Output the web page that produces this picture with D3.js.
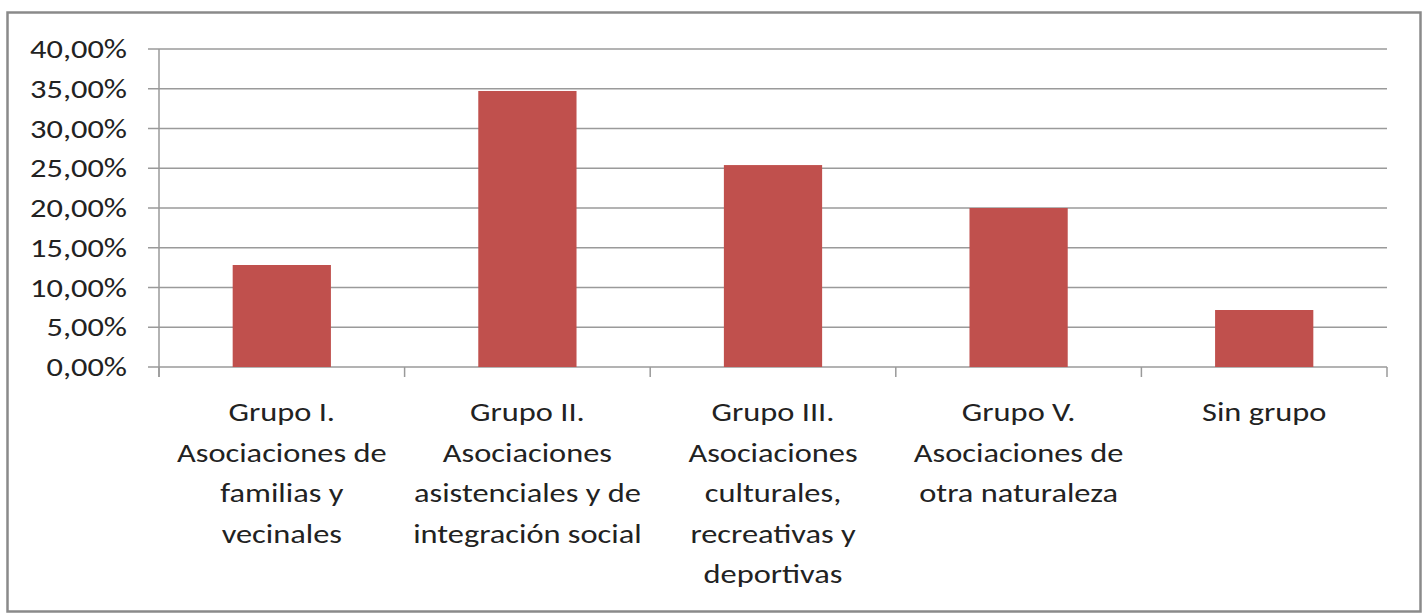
<!DOCTYPE html>
<html>
<head>
<meta charset="utf-8">
<script src="https://cdn.jsdelivr.net/npm/d3@7"></script>
<style>
	html, body { margin: 0; padding: 0; background: #fff; }
	svg { display: block; }
</style>
</head>
<body>
<div id="chart"></div>
<script>
// data
const categories = [
	["Grupo I.", "Asociaciones de", "familias y", "vecinales"],
	["Grupo II.", "Asociaciones", "asistenciales y de", "integración social"],
	["Grupo III.", "Asociaciones", "culturales,", "recreativas y", "deportivas"],
	["Grupo V.", "Asociaciones de", "otra naturaleza"],
	["Sin grupo"]
];
const values = [0.1283, 0.3472, 0.2540, 0.2000, 0.0717];
const yTicks = [0, 0.05, 0.10, 0.15, 0.20, 0.25, 0.30, 0.35, 0.40];

const width = 1422, height = 613;
const margin = { left: 159, right: 35, top: 49, bottom: 246 };
const font = "Carlito, Calibri, Lato, sans-serif";
const fontSize = "27px";
const stretch = 1.2; // the picture's text is wider than Lato

const svg = d3.select("#chart")
	.append("svg")
	.attr("width", width)
	.attr("height", height);

// outer frame
svg.append("rect")
	.attr("x", 7.5).attr("y", 12.5)
	.attr("width", 1413).attr("height", 599)
	.attr("fill", "#fff")
	.attr("stroke", "#8a8a8a")
	.attr("stroke-width", 2.5);

const x = d3.scaleBand()
	.domain(d3.range(values.length))
	.range([margin.left, width - margin.right])
	.paddingInner(0.6)
	.paddingOuter(0.3);

const y = d3.scaleLinear()
	.domain([0, 0.4])
	.range([height - margin.bottom, margin.top]);

const fmt = (v) => (v * 100).toFixed(2).replace(".", ",") + "%";

// gridlines + y ticks
svg.append("g")
	.attr("stroke", "#9a9a9a")
	.attr("stroke-width", 1.5)
	.selectAll("line")
	.data(yTicks)
	.join("line")
	.attr("x1", margin.left - 11)
	.attr("x2", width - margin.right)
	.attr("y1", (d) => y(d))
	.attr("y2", (d) => y(d));

svg.append("g")
	.selectAll("text")
	.data(yTicks)
	.join("text")
	.attr("transform", (d) => `translate(127,${y(d)}) scale(${stretch},1)`)
	.attr("text-anchor", "end")
	.attr("dominant-baseline", "central")
	.attr("font-family", font)
	.attr("font-size", fontSize)
	.attr("fill", "#222")
	.text(fmt);

// bars
svg.append("g")
	.selectAll("rect")
	.data(values)
	.join("rect")
	.attr("x", (d, i) => x(i))
	.attr("y", (d) => y(d))
	.attr("width", x.bandwidth())
	.attr("height", (d) => y(0) - y(d))
	.attr("fill", "#C0504D");

// axes lines
const bounds = d3.range(values.length + 1).map((i) => margin.left + i * x.step());
svg.append("line")
	.attr("x1", margin.left).attr("x2", margin.left)
	.attr("y1", y(0.4)).attr("y2", y(0) + 10)
	.attr("stroke", "#9a9a9a").attr("stroke-width", 1.5);
svg.append("g")
	.attr("stroke", "#9a9a9a")
	.attr("stroke-width", 1.5)
	.selectAll("line")
	.data(bounds)
	.join("line")
	.attr("x1", (d) => d).attr("x2", (d) => d)
	.attr("y1", y(0)).attr("y2", y(0) + 10);

// category labels
const labels = svg.append("g")
	.selectAll("text")
	.data(categories)
	.join("text")
	.attr("transform", (d, i) => `translate(${x(i) + x.bandwidth() / 2},0) scale(${stretch},1)`)
	.attr("text-anchor", "middle")
	.attr("font-family", font)
	.attr("font-size", fontSize)
	.attr("fill", "#222");

labels.selectAll("tspan")
	.data((d) => d)
	.join("tspan")
	.attr("x", 0)
	.attr("y", (d, j) => 412 + j * 40.5)
	.attr("dominant-baseline", "central")
	.text((d) => d);
</script>
</body>
</html>
